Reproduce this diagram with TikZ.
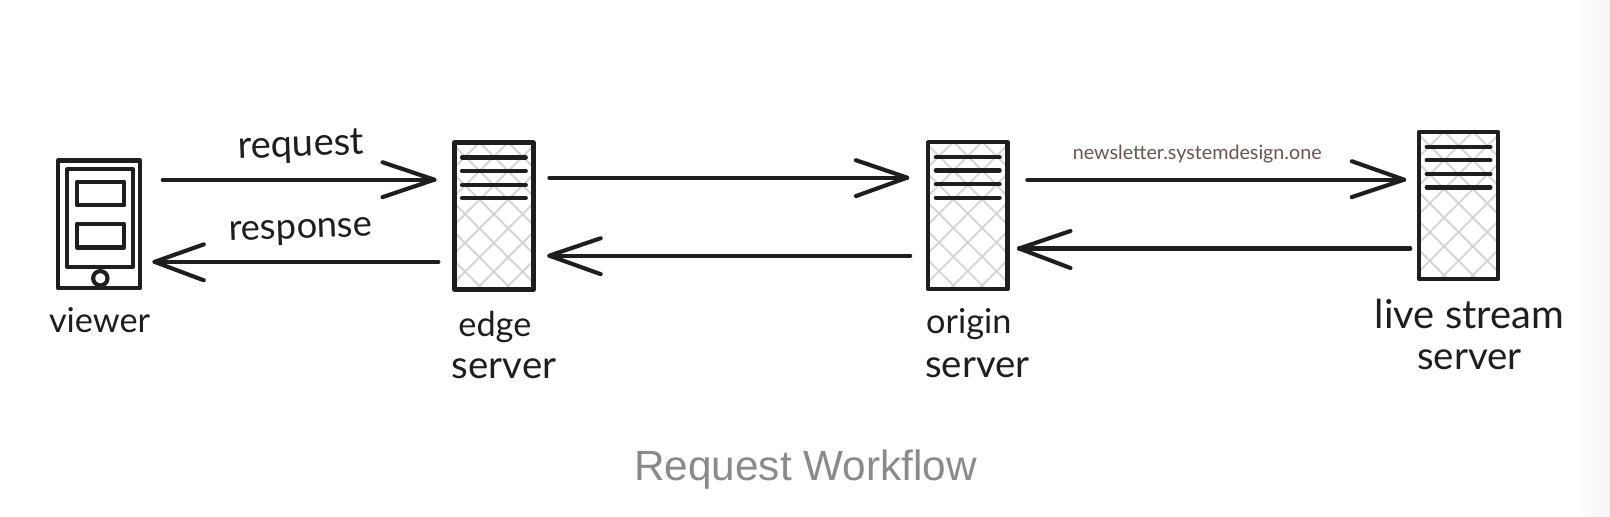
\documentclass[tikz,border=0pt]{standalone}
\usepackage{fontspec}
\setmainfont{Lato}
\newfontfamily\capfont{Liberation Sans}
\usetikzlibrary{calc}
\definecolor{ink}{HTML}{1E1E1E}
\definecolor{hatch}{HTML}{D4D4D4}
\definecolor{brownink}{HTML}{6B5450}
\definecolor{captiongray}{HTML}{8A8A8A}
\tikzset{
  x=0.5pt,y=-0.5pt,
  flow/.style={draw=ink,line width=2pt,line cap=round,line join=round},
  boxline/.style={draw=ink,line width=2.2pt,line join=round},
  rackline/.style={draw=ink,line width=2.1pt,line cap=round},
  hatchline/.style={draw=hatch,line width=0.9pt},
  thinbox/.style={draw=ink,line width=2pt,line join=round},
  rack/.style={boxline,rectangle,inner sep=0pt,minimum width=38.5pt,minimum height=71.5pt},
  hand/.style={text=ink,inner sep=0pt},
  handsize/.style={font=\fontsize{#1}{#1}\selectfont},
}
\newcommand{\rackicon}[3]{% name, x-centre, y-centre
  \begin{scope}
    \clip (#2-39,#3-72) rectangle (#2+39,#3+72);
    \foreach \k in {-9,...,11}{
      \draw[hatchline] (#2-60+\k*28,#3-90) -- ++(180,180);
      \draw[hatchline] (#2+60-\k*28,#3-90) -- ++(-180,180);
    }
  \end{scope}
  \node[rack] (#1) at (#2,#3) {};
  \foreach \dy in {-57,-44,-30.5,-17.5}{
    \draw[rackline] ([shift={(-31,\dy)}]#1.center) -- ([shift={(31,\dy)}]#1.center);
  }
}
\begin{document}
\begin{tikzpicture}
\useasboundingbox (0,0) rectangle (1568,503);
\fill[white] (0,0) rectangle (1568,503);
\shade[left color=white,right color=black!4] (1530,0) rectangle (1568,503);

% viewer
\node[boxline,rectangle,inner sep=0pt,minimum width=40pt,minimum height=62pt] (viewer) at (96.5,218.5) {};
\node[thinbox,rectangle,inner sep=0pt,minimum width=32pt,minimum height=47.5pt] (viewerinner) at (97.5,212.5) {};
\node[thinbox,rectangle,inner sep=0pt,minimum width=23pt,minimum height=11.5pt] (screena) at (98,188.5) {};
\node[thinbox,rectangle,inner sep=0pt,minimum width=23pt,minimum height=11.5pt] (screenb) at (98,229.5) {};
\node[thinbox,circle,inner sep=0pt,minimum size=7pt,fill=white] (viewerbutton) at (97.7,271) {};

% servers
\rackicon{edge}{481}{210.5}
\rackicon{origin}{942.5}{210}
\rackicon{live}{1420.5}{200}

% connectors
\draw[flow] ([shift={(19.8,-43.5)}]viewer.east) -- ([shift={(-17.3,-35.5)}]edge.west);
\draw[flow] ([shift={(-67.8,-52.5)}]edge.west) -- ([shift={(-17.3,-35.5)}]edge.west) -- ([shift={(-67.8,-18.5)}]edge.west);

\draw[flow] ([shift={(-13.3,44.5)}]edge.west) -- ([shift={(11.8,36.5)}]viewer.east);
\draw[flow] ([shift={(59.8,19.5)}]viewer.east) -- ([shift={(11.8,36.5)}]viewer.east) -- ([shift={(59.8,54.5)}]viewer.east);

\draw[flow] ([shift={(13.3,-37.5)}]edge.east) -- ([shift={(-18.3,-37)}]origin.west);
\draw[flow] ([shift={(-68.3,-54)}]origin.west) -- ([shift={(-18.3,-37)}]origin.west) -- ([shift={(-68.3,-19)}]origin.west);

\draw[flow] ([shift={(-15.3,39)}]origin.west) -- ([shift={(13.3,38.5)}]edge.east);
\draw[flow] ([shift={(63.3,21.5)}]edge.east) -- ([shift={(13.3,38.5)}]edge.east) -- ([shift={(63.3,56.5)}]edge.east);

\draw[flow] ([shift={(17.3,-35)}]origin.east) -- ([shift={(-12.3,-25)}]live.west);
\draw[flow] ([shift={(-63.3,-43)}]live.west) -- ([shift={(-12.3,-25)}]live.west) -- ([shift={(-63.3,-8)}]live.west);

\draw[flow] ([shift={(-6.3,42)}]live.west) -- ([shift={(9.3,32)}]origin.east);
\draw[flow] ([shift={(59.3,15)}]origin.east) -- ([shift={(9.3,32)}]origin.east) -- ([shift={(59.3,51)}]origin.east);

% labels
\node[hand,handsize=18.6,rotate=2] (lblrequest) at (293,143) {request};
\node[hand,handsize=17.7,rotate=2] (lblresponse) at (293,226) {response};
\node[hand,handsize=16.7] (lblviewer) at (97,312) {viewer};
\node[hand,handsize=16.7] (lbledge) at (482,318) {edge};
\node[hand,handsize=18.7] (lbledges) at (491,359) {server};
\node[hand,handsize=16.7] (lblorigin) at (943.5,316) {origin};
\node[hand,handsize=18.7] (lblorigins) at (952,358) {server};
\node[hand,handsize=19.4] (lbllive) at (1431,306) {live stream};
\node[hand,handsize=18.7] (lbllives) at (1431,350) {server};
\node[text=brownink,inner sep=0pt,font=\fontsize{9.6}{11}\selectfont] (lblnews) at (1166,150) {newsletter.systemdesign.one};
\node[text=captiongray,inner sep=0pt,font=\capfont\fontsize{20.6}{24}\selectfont] (caption) at (784.5,457) {Request Workflow};
\end{tikzpicture}
\end{document}
